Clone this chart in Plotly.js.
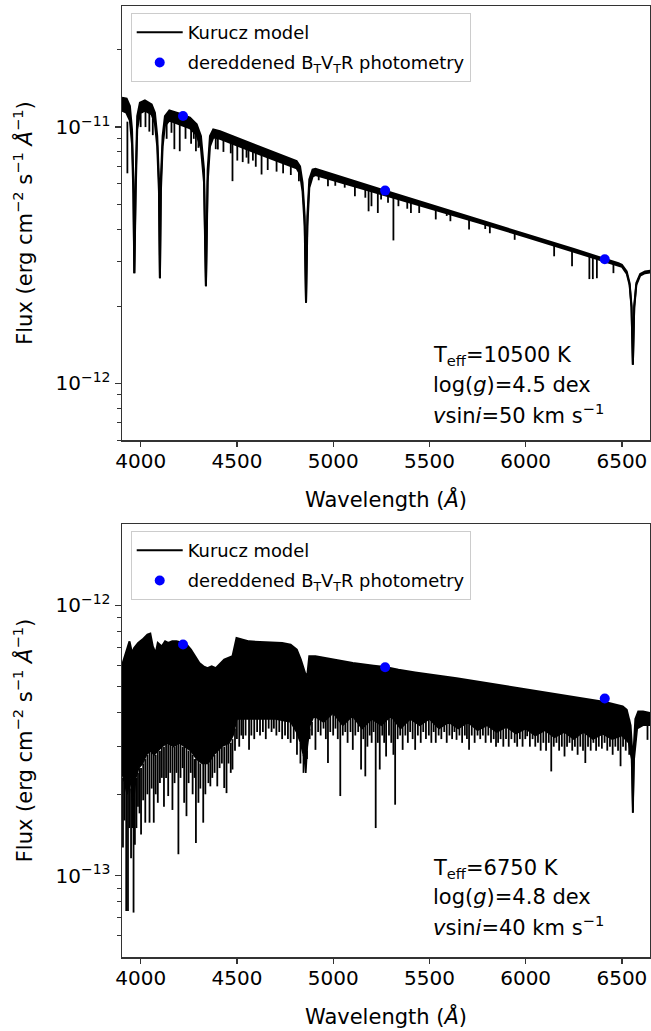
<!DOCTYPE html>
<html><head><meta charset="utf-8">
<script src="https://cdn.plot.ly/plotly-3.0.1.min.js"></script>
<style>html,body{margin:0;padding:0;background:#fff}#chart{width:651px;height:1031px}</style>
</head><body><div id="chart"></div>
<script>
// ---------- TOP PANEL: Teff=10500 K  (flux in units of 1e-12 erg cm^-2 s^-1 A^-1) ----------
const TOP_UNIT = 1e-12;
// upper edge of the model spectrum
const topUpperWl = [3903,3927,3944,3955,3962,3967,3974,3982,3996,4022,4057,4074,4086,4095,4100,4105,4114,4126,4149,4195,4256,4291,4313,4329,4339,4348,4360,4377,4412,4585,4810,4828,4841,4852,4859,4866,4876,4893,4908,5270,5500,5750,6000,6250,6482,6500,6525,6540,6550,6557,6564,6575,6595,6620,6650];
const topUpperFlux = [13.03,12.91,12.08,9.79,6.24,2.69,6.24,11.04,12.45,12.71,12.27,11.38,9.23,6.24,2.57,6.24,9.23,11.04,11.61,11.33,10.89,10.26,9.23,6.82,2.39,6.82,9.23,9.79,9.64,8.55,7.36,7.03,6.05,4.49,2.06,4.49,6.24,6.82,6.87,5.65,5.00,4.37,3.82,3.34,2.94,2.90,2.73,2.46,2.00,1.18,2.00,2.46,2.67,2.73,2.75];
// lower edge of the dense (blended) line band
const topBaseWl = [3903,3925,3944,3955,3962,3967,3974,3982,3996,4022,4057,4074,4086,4095,4100,4105,4114,4126,4149,4195,4256,4291,4313,4329,4339,4348,4360,4377,4412,4585,4810,4828,4841,4852,4859,4866,4876,4893,4908,5270,5500,5750,6000,6250,6482,6500,6525,6540,6550,6557,6564,6575,6595,6620,6650];
const topBaseFlux = [11.6,11.4,10.6,8.6,5.5,2.69,5.5,9.8,11.3,11.6,11.2,10.3,8.4,5.6,2.57,5.6,8.4,10.1,10.6,10.3,9.9,9.3,8.3,6.1,2.39,6.1,8.4,9.1,9.0,8.0,6.9,6.55,5.6,4.1,2.06,4.1,5.8,6.4,6.5,5.42,4.83,4.25,3.73,3.27,2.89,2.85,2.68,2.42,1.97,1.18,1.97,2.42,2.63,2.69,2.71];
// individual absorption lines: wavelength, start level, line depth
const topLineWl = [3931,4000,4025,4045,4063,4135,4160,4175,4203,4233,4262,4276,4287,4300,4390,4401,4430,4468,4477,4502,4530,4550,4560,4583,4598,4628,4660,4706,4740,4780,4822,4925,4973,5011,5060,5113,5167,5184,5199,5232,5249,5285,5313,5339,5385,5404,5447,5533,5590,5609,5706,5790,5814,5943,6148,6241,6331,6349,6370,6456];
const topLineTop = [10.5,11.3,11.6,11.3,10.8,10.3,10.5,10.4,10.3,10.1,9.9,9.6,9.4,9.0,9.0,9.0,8.9,8.7,8.6,8.5,8.4,8.3,8.2,8.0,8.0,7.8,7.7,7.5,7.3,7.1,6.7,6.5,6.4,6.3,6.1,6.0,5.8,5.75,5.7,5.6,5.55,5.4,5.35,5.3,5.2,5.1,5.0,4.8,4.65,4.6,4.35,4.2,4.15,3.85,3.45,3.3,3.15,3.12,3.09,2.93];
const topLineDepth = [6.6,10.0,10.0,9.6,9.3,9.0,9.5,8.2,8.05,9.0,8.6,9.0,8.05,8.3,8.2,8.18,8.0,7.9,6.15,7.4,7.3,7.6,7.2,7.4,7.0,6.53,6.8,6.7,6.6,6.5,6.15,6.2,5.87,5.9,5.8,5.37,5.3,4.69,4.91,4.62,5.21,5.06,3.61,4.91,4.8,4.62,4.62,4.36,4.5,4.29,3.98,4.0,3.85,3.63,3.13,2.86,2.55,2.55,2.57,2.69];

// photometry (same wavelengths in both panels)
const photWl = [4220, 5270, 6411];
const topPhotFlux = [11.04, 5.65, 3.05];

// ---------- BOTTOM PANEL: Teff=6750 K  (flux in units of 1e-13) ----------
const BOT_UNIT = 1e-13;
const botUpperWl = [3903,3916,3927,3942,3955,3966,3987,4009,4035,4050,4063,4078,4089,4110,4127,4143,4164,4186,4220,4240,4261,4283,4305,4326,4347,4369,4390,4434,4477,4498,4520,4563,4649,4735,4779,4811,4832,4854,4865,4876,4908,4994,5102,5210,5270,5339,5426,5641,5857,6072,6288,6411,6504,6525,6545,6552,6557,6562,6570,6585,6610,6646];
const botUpperFlux = [6.0,6.5,6.8,7.36,6.66,6.95,7.26,7.47,7.79,7.86,7.05,6.66,7.26,7.05,7.36,7.26,7.36,7.36,7.26,7.15,6.86,6.48,6.12,5.95,5.86,5.95,5.86,6.30,6.48,7.57,7.51,7.36,7.30,7.26,7.15,6.86,6.30,5.62,5.46,6.48,6.48,6.30,6.12,5.98,5.91,5.78,5.65,5.38,5.09,4.81,4.54,4.39,4.23,4.11,3.6,3.0,1.71,3.0,3.8,4.05,4.05,4.0];
const botBaseWl = [3903,3915,3930,3945,3960,3975,3990,4010,4030,4050,4070,4090,4110,4140,4170,4200,4230,4260,4290,4320,4350,4380,4420,4460,4480,4500,4530,4600,4700,4780,4810,4830,4850,4858,4866,4880,4900,4950,5000,5050,5100,5150,5200,5250,5300,5350,5400,5450,5500,5550,5600,5650,5700,5750,5800,5850,5900,5950,6000,6050,6100,6150,6200,6250,6300,6350,6400,6450,6500,6535,6550,6557,6564,6580,6610,6646];
const botBaseFlux = [2.4,2.2,2.0,2.3,1.8,2.3,2.5,2.6,2.8,2.9,2.8,2.9,3.0,3.1,3.0,3.1,3.0,2.9,2.7,2.6,2.6,2.8,3.0,3.1,3.3,3.8,3.8,3.8,3.8,3.7,3.4,3.1,2.7,2.4,3.0,3.6,3.9,3.7,4.0,3.6,3.9,3.5,3.8,3.6,3.9,3.5,3.8,3.6,3.8,3.5,3.7,3.5,3.7,3.45,3.6,3.4,3.55,3.35,3.5,3.3,3.45,3.25,3.4,3.2,3.4,3.2,3.35,3.2,3.3,3.1,2.7,1.71,2.7,3.5,3.6,3.6];
const botLineWl = [3908,3916,3925,3934,3941,3950,3957,3963,3970,3978,3986,3994,4002,4013,4024,4035,4046,4057,4068,4078,4089,4100,4110,4121,4132,4143,4154,4165,4176,4186,4196,4207,4218,4226,4238,4249,4260,4270,4280,4287,4300,4310,4325,4336,4352,4362,4372,4384,4398,4410,4422,4434,4446,4456,4468,4477,
  4490,4500,4512,4523,4532,4545,4563,4575,4590,4605,4620,4635,4650,4665,4680,4692,4705,4720,4735,4750,4765,4779,4795,4812,4830,4846,4864,4878,4890,
  4908,4922,4935,4950,4962,4973,4985,5000,5012,5024,5037,5050,5063,5075,5090,5102,5115,5130,5145,5157,5167,5178,5190,5200,5210,5221,5232,5242,5255,5265,5275,5290,5302,5313,5322,5335,5348,5361,5375,5388,5400,5413,5426,5440,5455,5468,5482,5497,5510,5522,5533,5548,5562,5577,5590,
  5604,5618,5630,5641,5656,5670,5684,5695,5706,5720,5735,5750,5764,5778,5792,5806,5820,5834,5846,5857,5870,5884,5898,5912,5926,5943,5956,5970,5984,5998,6008,6022,6036,6050,6064,6078,6092,
  6106,6120,6133,6146,6160,6174,6188,6202,6215,6228,6242,6256,6270,6284,6298,6310,6324,6338,6352,6366,6380,6396,6410,6424,6438,6452,6466,6480,6493,6506,6520,6538,6633];
const botLineTop = [2.3,2.2,2.1,2.1,2.2,2.1,2.0,1.9,2.2,2.3,2.4,2.5,2.5,2.6,2.7,2.8,2.9,2.9,2.8,2.8,2.9,2.9,3.0,3.0,3.1,3.1,3.1,3.0,3.0,3.1,3.1,3.1,3.0,3.0,3.0,2.9,2.9,2.8,2.7,2.7,2.7,2.6,2.6,2.6,2.6,2.7,2.8,2.8,2.9,3.0,3.0,3.0,3.1,3.1,3.1,3.2,
  3.5,3.8,3.8,3.8,3.8,3.8,3.8,3.8,3.8,3.8,3.8,3.8,3.8,3.8,3.8,3.8,3.8,3.8,3.8,3.8,3.8,3.7,3.6,3.4,3.1,2.8,2.9,3.5,3.7,
  4.2,4.2,4.2,4.2,4.2,4.2,4.2,4.2,4.2,4.2,4.2,4.2,4.2,4.2,4.2,4.2,4.2,4.2,4.2,4.2,4.2,4.2,4.2,4.2,4.2,4.2,4.2,4.2,4.2,4.2,4.2,4.2,4.2,4.2,4.2,4.2,4.2,4.2,4.2,4.2,4.2,4.2,4.2,4.2,4.2,4.2,4.2,4.2,4.2,4.2,4.2,4.2,4.2,4.2,4.2,
  4.0,4.0,4.0,4.0,4.0,4.0,4.0,4.0,4.0,4.0,4.0,4.0,4.0,4.0,4.0,4.0,4.0,4.0,4.0,4.0,4.0,4.0,4.0,4.0,4.0,4.0,4.0,4.0,4.0,4.0,4.0,4.0,4.0,4.0,4.0,4.0,4.0,
  3.8,3.8,3.8,3.8,3.8,3.8,3.8,3.8,3.8,3.8,3.8,3.8,3.8,3.8,3.8,3.8,3.8,3.8,3.8,3.8,3.8,3.8,3.8,3.8,3.8,3.8,3.8,3.8,3.8,3.8,3.8,3.8,3.8];
const botLineDepth = [1.27,1.6,0.74,0.74,1.5,1.16,1.5,0.73,1.3,1.5,1.8,1.7,1.42,1.9,1.57,2.0,1.57,2.1,1.57,2.0,1.86,2.2,2.3,1.80,2.3,1.97,2.4,1.75,2.2,2.4,1.20,2.3,2.5,1.86,1.66,2.2,2.4,2.0,2.3,1.32,1.86,2.1,1.57,2.0,2.2,2.14,2.3,2.4,2.14,2.5,2.6,2.11,2.02,2.6,2.4,2.47,
  2.9,3.2,3.0,3.3,3.2,3.3,2.92,3.3,3.2,3.4,3.3,3.4,3.2,3.5,3.4,3.5,3.3,3.4,3.2,3.3,3.2,3.10,3.2,2.8,2.6,2.4,2.7,3.2,3.3,
  2.92,3.4,3.3,3.5,3.2,2.61,3.4,3.3,3.5,3.2,1.97,3.3,3.4,3.1,3.4,2.92,3.3,3.4,2.47,3.2,2.33,3.0,3.3,3.1,3.4,1.50,3.1,2.47,3.3,3.1,2.76,3.3,3.1,2.8,1.83,3.2,3.3,2.92,3.3,3.1,3.4,3.2,2.92,3.3,3.1,3.4,3.2,3.3,3.1,3.4,3.10,3.3,3.2,3.4,3.1,
  3.3,3.2,3.4,3.18,3.3,3.1,3.3,3.2,2.92,3.3,3.1,3.3,3.2,3.3,3.1,3.3,3.1,3.2,3.0,3.10,3.2,3.0,3.2,3.0,3.2,3.10,3.0,3.2,3.0,3.2,3.28,3.0,3.2,3.0,3.1,2.9,3.1,
  2.9,3.1,2.43,3.0,3.1,2.9,3.0,2.76,3.0,3.1,2.9,3.0,2.8,3.0,2.9,2.61,3.0,2.9,3.1,2.9,3.0,2.95,3.1,2.9,3.0,2.8,3.0,2.9,2.54,3.0,2.9,2.8,3.18];
const botPhotFlux = [7.16, 5.90, 4.52];

// ---------- axes / labels ----------
const xRange = [3903, 6646];
const xTickVals = [4000, 4500, 5000, 5500, 6000, 6500];
const xTickText = ['4000', '4500', '5000', '5500', '6000', '6500'];
const topYRange = [6.0e-13, 2.97e-11];
const topYTickVals = [1e-12, 1e-11];
const topYTickText = ['10<sup>−12</sup>', '10<sup>−11</sup>'];
const topYMinor = [6e-13, 7e-13, 8e-13, 9e-13, 2e-12, 3e-12, 4e-12, 5e-12, 6e-12, 7e-12, 8e-12, 9e-12, 2e-11];
const botYRange = [5.0e-14, 2.0e-12];
const botYTickVals = [1e-13, 1e-12];
const botYTickText = ['10<sup>−13</sup>', '10<sup>−12</sup>'];
const botYMinor = [6e-14, 7e-14, 8e-14, 9e-14, 2e-13, 3e-13, 4e-13, 5e-13, 6e-13, 7e-13, 8e-13, 9e-13];
const topNote = ['T<sub>eff</sub>=10500 K', 'log(<i>g</i>)=4.5 dex', '<i>v</i>sin<i>i</i>=50 km s<sup>−1</sup>'];
const botNote = ['T<sub>eff</sub>=6750 K', 'log(<i>g</i>)=4.8 dex', '<i>v</i>sin<i>i</i>=40 km s<sup>−1</sup>'];
const modelName = 'Kurucz model';
const photName = 'dereddened B<sub>T</sub>V<sub>T</sub>R photometry';
const xTitle = 'Wavelength (<i>Å</i>)';
const yTitle = 'Flux (erg cm<sup>−2</sup> s<sup>−1</sup> <i>Å</i><sup>−1</sup>)';

const FONT = 'DejaVu Sans, Verdana, sans-serif';
const scale = (arr, u) => arr.map(v => v * u);
// build vertical line segments (wl, top) -> (wl, depth) separated by gaps
function segX(wl) { const o = []; wl.forEach(w => o.push(w, w, null)); return o; }
function segY(top, dep, u) { const o = []; top.forEach((t, i) => o.push(t * u, dep[i] * u, null)); return o; }
const LW = 2;

const traces = [
  {x: topUpperWl, y: scale(topUpperFlux, TOP_UNIT), xaxis: 'x', yaxis: 'y', mode: 'lines',
   line: {color: '#000', width: LW}, name: modelName, legend: 'legend', legendgroup: 'm1', hoverinfo: 'skip'},
  {x: topBaseWl, y: scale(topBaseFlux, TOP_UNIT), xaxis: 'x', yaxis: 'y', mode: 'lines',
   line: {color: '#000', width: LW}, fill: 'tonexty', fillcolor: '#000', showlegend: false, hoverinfo: 'skip'},
  {x: botUpperWl, y: scale(botUpperFlux, BOT_UNIT), xaxis: 'x2', yaxis: 'y2', mode: 'lines',
   line: {color: '#000', width: LW}, name: modelName, legend: 'legend2', legendgroup: 'm2', hoverinfo: 'skip'},
  {x: botBaseWl, y: scale(botBaseFlux, BOT_UNIT), xaxis: 'x2', yaxis: 'y2', mode: 'lines',
   line: {color: '#000', width: 1.5}, fill: 'tonexty', fillcolor: '#000', showlegend: false, hoverinfo: 'skip'},
  {x: segX(topLineWl), y: segY(topLineTop, topLineDepth, TOP_UNIT), xaxis: 'x', yaxis: 'y', mode: 'lines',
   connectgaps: false, line: {color: '#000', width: 1.8}, showlegend: false, hoverinfo: 'skip'},
  {x: segX(botLineWl), y: segY(botLineTop, botLineDepth, BOT_UNIT), xaxis: 'x2', yaxis: 'y2', mode: 'lines',
   connectgaps: false, line: {color: '#000', width: 1.8}, showlegend: false, hoverinfo: 'skip'},
  {x: photWl, y: scale(topPhotFlux, TOP_UNIT), xaxis: 'x', yaxis: 'y', mode: 'markers',
   marker: {color: '#0000ff', size: 10}, name: photName, legend: 'legend', legendgroup: 'p1'},
  {x: photWl, y: scale(botPhotFlux, BOT_UNIT), xaxis: 'x2', yaxis: 'y2', mode: 'markers',
   marker: {color: '#0000ff', size: 10}, name: photName, legend: 'legend2', legendgroup: 'p2'}
];

const AXC = '#333';
function xAxis(anchor) {
  return {domain: [0, 1], anchor: anchor, range: xRange, tickmode: 'array', tickvals: xTickVals, ticktext: xTickText,
    ticks: 'outside', ticklen: 5, tickwidth: 1.2, tickcolor: AXC, showline: true, linecolor: AXC, linewidth: 1.5,
    mirror: true, showgrid: false, zeroline: false, tickfont: {family: FONT, size: 20, color: '#000'},
    ticklabelstandoff: -3,
    title: {text: xTitle, font: {family: FONT, size: 21, color: '#000'}, standoff: 21}};
}
function yAxis(anchor, domain, rng, tv, tt, minor) {
  return {domain: domain, anchor: anchor, type: 'log', range: rng.map(Math.log10), tickmode: 'array',
    tickvals: tv, ticktext: tt, ticks: 'outside', ticklen: 6, tickwidth: 1.2, tickcolor: AXC,
    minor: {tickmode: 'array', tickvals: minor, ticks: 'outside', ticklen: 3.5, tickwidth: 1, tickcolor: AXC, showgrid: false},
    showline: true, linecolor: AXC, linewidth: 1.5, mirror: true, showgrid: false, zeroline: false,
    tickfont: {family: FONT, size: 20, color: '#000'},
    title: {text: yTitle, font: {family: FONT, size: 21, color: '#000'}, standoff: 17}};
}
function legendBox(y) {
  return {x: 0.0165, y: y, xanchor: 'left', yanchor: 'top', bgcolor: 'rgba(255,255,255,0.85)', bordercolor: '#cccccc',
    borderwidth: 1, font: {family: FONT, size: 17.9, color: '#000'}, itemwidth: 46, traceorder: 'grouped', tracegroupgap: 4};
}
const annotations = [];
const topNoteY = [0.6323, 0.6018, 0.5713];
const botNoteY = [0.0928, 0.0634, 0.0329];
topNote.forEach((t, i) => annotations.push({text: t, xref: 'paper', yref: 'paper', x: 0.5847, y: topNoteY[i],
  xanchor: 'left', yanchor: 'middle', showarrow: false, font: {family: FONT, size: 21, color: '#000'}}));
botNote.forEach((t, i) => annotations.push({text: t, xref: 'paper', yref: 'paper', x: 0.5847, y: botNoteY[i],
  xanchor: 'left', yanchor: 'middle', showarrow: false, font: {family: FONT, size: 21, color: '#000'}}));

const layout = {
  width: 651, height: 1031, margin: {l: 122, r: 1, t: 6, b: 74}, paper_bgcolor: '#fff', plot_bgcolor: '#fff',
  font: {family: FONT, color: '#000'},
  xaxis: xAxis('y'), yaxis: yAxis('x', [0.5436, 1], topYRange, topYTickVals, topYTickText, topYMinor),
  xaxis2: xAxis('y2'), yaxis2: yAxis('x2', [0, 0.4553], botYRange, botYTickVals, botYTickText, botYMinor),
  legend: legendBox(0.9926), legend2: legendBox(0.4479),
  annotations: annotations, showlegend: true
};
Plotly.newPlot('chart', traces, layout, {displayModeBar: false, staticPlot: true});
</script></body></html>
